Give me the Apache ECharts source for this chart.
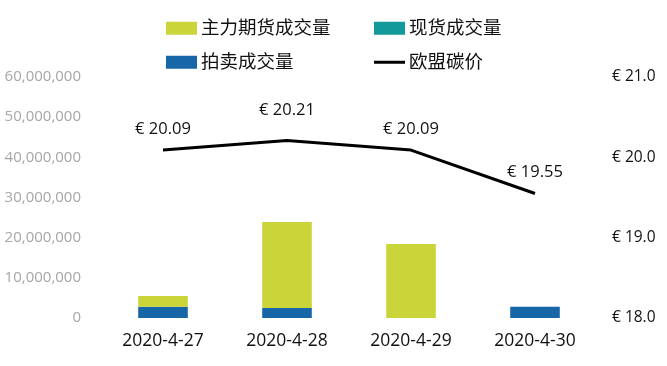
<!DOCTYPE html>
<html><head><meta charset="utf-8">
<script src="https://cdn.jsdelivr.net/npm/echarts@6/dist/echarts.min.js"></script>
<style>html,body{margin:0;padding:0;background:#fff}#c{width:667px;height:366px}</style>
</head><body><div id="c"></div>
<script>
const categories = ['2020-4-27','2020-4-28','2020-4-29','2020-4-30'];
const futuresVol = [2700000, 21400000, 18400000, 0];
const spotVol = [0, 0, 0, 0];
const auctionVol = [2800000, 2500000, 0, 2800000];
const euaPrice = [20.09, 20.21, 20.09, 19.55];
const leftTicks = {min: 0, max: 60000000, interval: 10000000};
const rightTicks = {min: 18, max: 21, interval: 1};

const FONT = 'Open Sans, Noto Sans CJK SC, sans-serif';
const chart = echarts.init(document.getElementById('c'));
function lg(name, left, top, h) {
  return {data: [{name: name, icon: 'rect'}], left: left, top: top, itemWidth: 31, itemHeight: h || 13,
    itemGap: 4, textStyle: {fontSize: 18.5, color: '#111', fontFamily: FONT, padding: [0, 0, 0, -1]}};
}
chart.setOption({
  animation: false,
  textStyle: {fontFamily: FONT},
  legend: [
    lg('主力期货成交量', 161, 14),
    lg('现货成交量', 369, 14),
    lg('拍卖成交量', 161, 48),
    lg('欧盟碳价', 369, 48, 3)
  ],
  grid: {left: 101, right: 70, top: 77, bottom: 48},
  xAxis: {
    type: 'category', data: categories,
    axisLine: {show: false}, axisTick: {show: false},
    axisLabel: {fontSize: 17.5, color: '#111', margin: 14, fontFamily: FONT}
  },
  yAxis: [
    {type: 'value', min: leftTicks.min, max: leftTicks.max, interval: leftTicks.interval,
     splitLine: {show: false}, axisLine: {show: false}, axisTick: {show: false},
     axisLabel: {fontSize: 15, color: '#a6a6a6', margin: 20, fontFamily: FONT,
       formatter: v => v.toLocaleString('en-US')}},
    {type: 'value', min: rightTicks.min, max: rightTicks.max, interval: rightTicks.interval,
     splitLine: {show: false}, axisLine: {show: false}, axisTick: {show: false},
     axisLabel: {fontSize: 15.5, color: '#111', margin: 15, fontFamily: FONT,
       formatter: v => '€ ' + v.toFixed(1)}}
  ],
  series: [
    {name: '拍卖成交量', type: 'bar', stack: 'v', data: auctionVol, barWidth: '40%', itemStyle: {color: '#1666a8'}},
    {name: '现货成交量', type: 'bar', stack: 'v', data: spotVol, barWidth: '40%', itemStyle: {color: '#12999a'}},
    {name: '主力期货成交量', type: 'bar', stack: 'v', data: futuresVol, barWidth: '40%', itemStyle: {color: '#cad53a'}},
    {name: '欧盟碳价', type: 'line', yAxisIndex: 1, showSymbol: true, symbol: 'circle', symbolSize: 0.1,
     lineStyle: {color: '#000', width: 3}, itemStyle: {color: '#000'},
     data: euaPrice.map((v, i) => ({value: v, label: {distance: i === 1 ? 22 : 13}})),
     label: {show: true, position: 'top', fontSize: 16.5, color: '#111', fontFamily: FONT,
       formatter: p => '€ ' + p.value.toFixed(2)}}
  ]
});
</script></body></html>
